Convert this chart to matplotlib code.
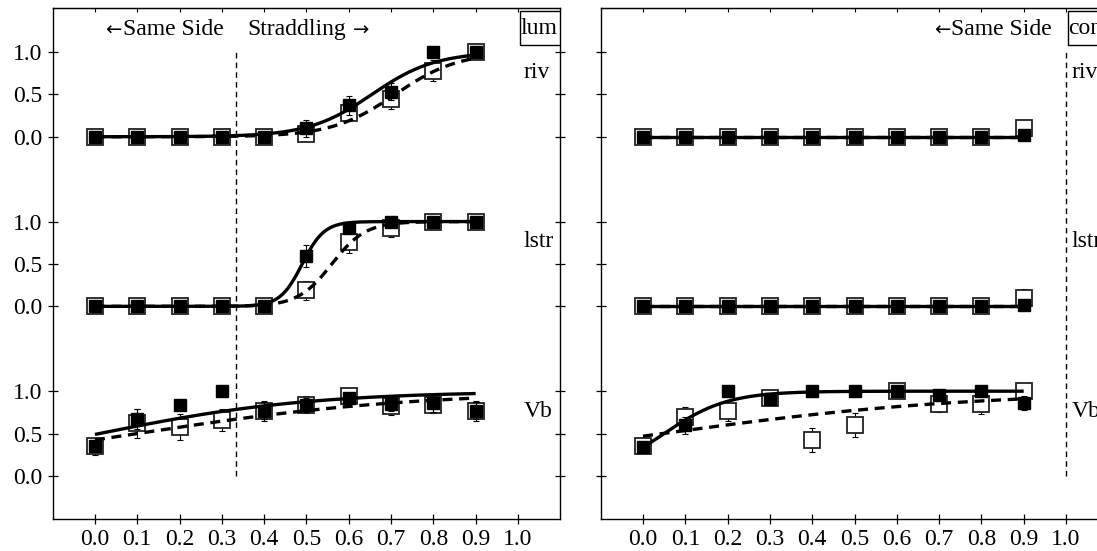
import numpy as np
import matplotlib
matplotlib.use("Agg")
import matplotlib.pyplot as plt
from matplotlib.patches import Rectangle

plt.rcParams['font.family'] = ['Liberation Serif', 'DejaVu Serif']

# Stimulus levels (proportion of offset)
levels = [0.0, 0.1, 0.2, 0.3, 0.4, 0.5, 0.6, 0.7, 0.8, 0.9]
x_tick_labels = ["0.0", "0.1", "0.2", "0.3", "0.4", "0.5", "0.6", "0.7", "0.8", "0.9", "1.0"]
y_tick_labels = ["0.0", "0.5", "1.0"]
conditions = ["riv", "lstr", "Vb"]
stack_offsets = [4, 2, 0]

# ---- luminance panel ----
lum_riv_filled = [0, 0, 0, 0, 0, 0.10, 0.37, 0.53, 1.0, 1.0]
lum_riv_filled_err = [0.02, 0.02, 0.02, 0.02, 0.02, 0.10, 0.11, 0.10, 0.04, 0.03]
lum_riv_open = [0, 0, 0, 0, 0, 0.03, 0.28, 0.45, 0.78, 1.0]
lum_riv_open_err = [0.02, 0.02, 0.02, 0.02, 0.02, 0.08, 0.10, 0.12, 0.12, 0.04]

lum_lstr_filled = [0, 0, 0, 0, 0, 0.59, 0.92, 1.0, 1.0, 1.0]
lum_lstr_filled_err = [0.02, 0.02, 0.02, 0.02, 0.02, 0.13, 0.06, 0.03, 0.02, 0.02]
lum_lstr_open = [0, 0, 0, 0, 0, 0.19, 0.76, 0.92, 1.0, 1.0]
lum_lstr_open_err = [0.02, 0.02, 0.02, 0.02, 0.02, 0.11, 0.13, 0.10, 0.03, 0.02]

lum_vb_filled = [0.35, 0.67, 0.84, 1.0, 0.77, 0.84, 0.92, 0.85, 0.86, 0.77]
lum_vb_filled_err = [0.06, 0.12, 0.03, 0.03, 0.10, 0.08, 0.05, 0.08, 0.10, 0.10]
lum_vb_open = [0.35, 0.62, 0.58, 0.66, 0.77, 0.84, 0.94, 0.82, 0.84, 0.77]
lum_vb_open_err = [0.10, 0.17, 0.15, 0.13, 0.12, 0.10, 0.05, 0.10, 0.10, 0.12]

# ---- contrast panel ----
con_riv_filled = [0, 0, 0, 0, 0, 0, 0, 0, 0, 0.02]
con_riv_filled_err = [0.02, 0.02, 0.02, 0.02, 0.02, 0.02, 0.02, 0.02, 0.02, 0.03]
con_riv_open = [0, 0, 0, 0, 0, 0, 0, 0, 0, 0.10]
con_riv_open_err = [0.02, 0.02, 0.02, 0.02, 0.02, 0.02, 0.02, 0.02, 0.02, 0.10]

con_lstr_filled = [0, 0, 0, 0, 0, 0, 0, 0, 0, 0.02]
con_lstr_filled_err = [0.02, 0.02, 0.02, 0.02, 0.02, 0.02, 0.02, 0.02, 0.02, 0.03]
con_lstr_open = [0, 0, 0, 0, 0, 0, 0, 0, 0, 0.10]
con_lstr_open_err = [0.02, 0.02, 0.02, 0.02, 0.02, 0.02, 0.02, 0.02, 0.02, 0.10]

con_vb_filled = [0.34, 0.60, 1.0, 0.91, 1.0, 1.0, 1.0, 0.95, 1.0, 0.86]
con_vb_filled_err = [0.05, 0.10, 0.04, 0.05, 0.03, 0.03, 0.03, 0.06, 0.03, 0.08]
con_vb_open = [0.35, 0.69, 0.77, 0.92, 0.42, 0.60, 1.0, 0.85, 0.85, 1.0]
con_vb_open_err = [0.06, 0.12, 0.12, 0.05, 0.14, 0.14, 0.03, 0.10, 0.12, 0.03]

# Logistic fit parameters (midpoint, width) for filled and open series
lum_riv_fit = [(0.655, 0.075), (0.71, 0.075)]
lum_lstr_fit = [(0.49, 0.026), (0.56, 0.04)]
lum_vb_fit = [(0.01, 0.25), (0.10, 0.33)]
con_riv_fit = [(2.0, 0.1), (2.0, 0.1)]
con_lstr_fit = [(2.0, 0.1), (2.0, 0.1)]
con_vb_fit = [(0.05, 0.075), (0.045, 0.37)]


def logistic(x, mid, width):
    return 1.0 / (1.0 + np.exp(-(x - mid) / width))


panels = [
    dict(tag="lum",
         series=[(lum_riv_filled, lum_riv_filled_err, lum_riv_open, lum_riv_open_err, lum_riv_fit),
                 (lum_lstr_filled, lum_lstr_filled_err, lum_lstr_open, lum_lstr_open_err, lum_lstr_fit),
                 (lum_vb_filled, lum_vb_filled_err, lum_vb_open, lum_vb_open_err, lum_vb_fit)],
         boundary=1.0 / 3.0, pos=[0.048, 0.0581, 0.4627, 0.9269], ylabels=True),
    dict(tag="con",
         series=[(con_riv_filled, con_riv_filled_err, con_riv_open, con_riv_open_err, con_riv_fit),
                 (con_lstr_filled, con_lstr_filled_err, con_lstr_open, con_lstr_open_err, con_lstr_fit),
                 (con_vb_filled, con_vb_filled_err, con_vb_open, con_vb_open_err, con_vb_fit)],
         boundary=1.0, pos=[0.5476, 0.0581, 0.4627, 0.9269], ylabels=False),
]

fig = plt.figure(figsize=(10.97, 5.51), dpi=100)
fs = 17
arrow_font = dict(family=['DejaVu Sans'], fontsize=14)
x = np.asarray(levels)
xfine = np.linspace(levels[0], levels[-1], 200)

for p in panels:
    ax = fig.add_axes(p["pos"])
    for (filled, ferr, opened, oerr, fit), off, name in zip(p["series"], stack_offsets, conditions):
        filled = np.asarray(filled) + off
        opened = np.asarray(opened) + off
        (fm, fw), (om, ow) = fit
        # open squares with their dashed fit
        ax.errorbar(x, opened, yerr=oerr, fmt="none", ecolor="black",
                    elinewidth=0.8, capsize=2.5, capthick=0.8, zorder=2)
        ax.plot(x, opened, linestyle="none", marker="s", markersize=11,
                markerfacecolor="white", markeredgecolor="#222222",
                markeredgewidth=1.3, zorder=3)
        ax.plot(xfine, logistic(xfine, om, ow) + off, color="black", lw=2.4,
                linestyle=(0, (3, 2)), zorder=4)
        # filled squares with their solid fit
        ax.errorbar(x, filled, yerr=ferr, fmt="none", ecolor="black",
                    elinewidth=0.8, capsize=2.5, capthick=0.8, zorder=5)
        ax.plot(x, filled, linestyle="none", marker="s", markersize=8,
                markerfacecolor="black", markeredgecolor="black", zorder=6)
        ax.plot(xfine, logistic(xfine, fm, fw) + off, color="black", lw=2.4,
                solid_capstyle="butt", zorder=7)
        ax.text(1.013, off + 0.76, name, fontsize=17, ha="left", va="center")

    # Same side / straddling boundary
    ax.plot([p["boundary"], p["boundary"]], [0, 5.0], color="black", lw=1.0,
            linestyle=(0, (4, 3)), zorder=1)

    # condition tag box in the top-right corner
    ax.add_patch(Rectangle((1.005, 5.08), 0.14, 0.40, fill=False,
                           edgecolor="black", lw=1.0, clip_on=True, zorder=8))
    ax.text(1.006, 5.28, p["tag"], fontsize=17, ha="left", va="center",
            clip_on=True, zorder=8)

    if p["tag"] == "lum":
        ax.text(0.043, 5.26, "\u2190", ha="center", va="center", **arrow_font)
        ax.text(0.066, 5.26, "Same Side", fontsize=fs, ha="left", va="center")
        ax.text(0.360, 5.26, "Straddling", fontsize=fs, ha="left", va="center")
        ax.text(0.628, 5.26, "\u2192", ha="center", va="center", **arrow_font)
    else:
        ax.text(0.967, 5.26, "Same Side", fontsize=fs, ha="right", va="center")
        ax.text(0.707, 5.26, "\u2190", ha="center", va="center", **arrow_font)

    ax.set_xlim(-0.1, 1.1)
    ax.set_ylim(-0.507, 5.515)
    ax.set_xticks(np.linspace(0, 1.0, 11))
    ax.set_xticklabels(x_tick_labels, fontsize=fs)
    yt = []
    ytl = []
    for off in sorted(stack_offsets):
        yt += [off + 0.0, off + 0.5, off + 1.0]
        ytl += y_tick_labels
    ax.set_yticks(yt)
    if p["ylabels"]:
        ax.set_yticklabels(ytl, fontsize=fs)
    else:
        ax.set_yticklabels([])
    ax.tick_params(axis="both", direction="inout", length=7, width=0.9, pad=4,
                   right=True, top=False)
    top = ax.secondary_xaxis("top")
    top.set_xticks(np.linspace(0, 1.0, 11))
    top.tick_params(direction="in", length=3, width=0.8, labeltop=False)
    for s in ax.spines.values():
        s.set_linewidth(1.0)

fig.savefig("out.png", dpi=100)
